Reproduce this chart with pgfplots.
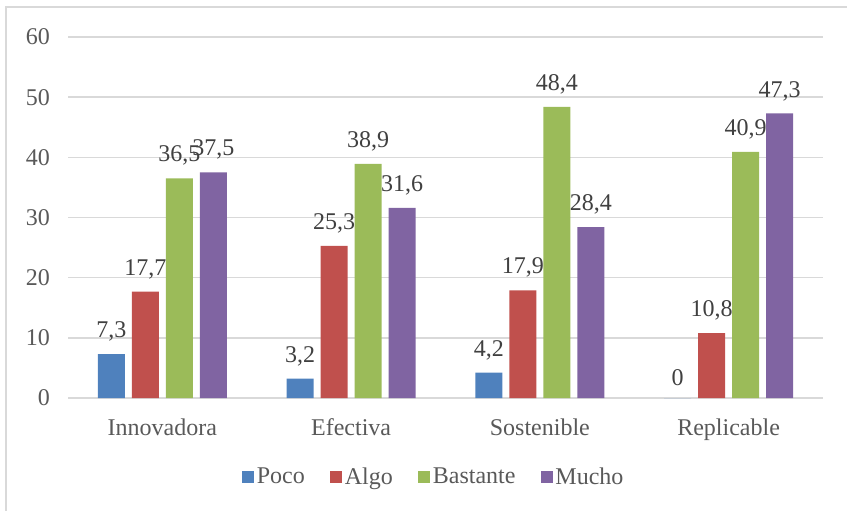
\documentclass[border=0pt]{standalone}
\usepackage{fontspec}
\setmainfont{Liberation Serif}
\usepackage{pgfplots}
\pgfplotsset{compat=1.18}
\definecolor{poco}{HTML}{4F81BD}
\definecolor{algo}{HTML}{C0504D}
\definecolor{bastante}{HTML}{9BBB59}
\definecolor{mucho}{HTML}{8064A2}
\definecolor{gridc}{HTML}{D9D9D9}
\definecolor{ticktxt}{HTML}{595959}
\definecolor{lbltxt}{HTML}{404040}
\begin{document}
\begin{tikzpicture}
  \useasboundingbox (0,0) rectangle (635.25pt,383.25pt);
  \draw[gridc, line width=0.9pt] (4.5pt,-2pt) -- (4.5pt,378pt) -- (640pt,378pt);
  \begin{axis}[
      at={(51pt,84.75pt)}, anchor=south west,
      scale only axis,
      width=566.25pt, height=270.75pt,
      ybar=5.25pt, bar width=20.25pt,
      xmin=-0.5, xmax=3.5, ymin=0, ymax=60,
      xtick={0,1,2,3},
      xticklabels={Innovadora, Efectiva, Sostenible, Replicable},
      ytick={0,10,...,60},
      major tick length=0pt,
      axis line style={draw=none},
      ymajorgrids=true,
      grid style={gridc, line width=1.2pt},
      font=\fontsize{18}{20}\selectfont,
      tick label style={text=ticktxt},
      /pgf/number format/assume math mode=true,
      yticklabel style={xshift=-10pt},
      xticklabel style={yshift=-12pt},
      nodes near coords,
      nodes near coords style={text=lbltxt, font=\fontsize{18}{20}\selectfont,
        yshift=6pt,
        /pgf/number format/.cd, fixed, precision=1, use comma, assume math mode=true},
      legend columns=4,
      legend style={at={(0.485,-0.219)}, anchor=center, draw=none, fill=none,
        text=ticktxt, font=\fontsize{18}{20}\selectfont,
        /tikz/every even column/.append style={column sep=17pt}},
      legend image code/.code={\fill[#1] (0pt,-4.5pt) rectangle (9pt,4.5pt);},
    ]
    \addplot[fill=poco, draw=none] coordinates {(0,7.3) (1,3.2) (2,4.2) (3,0)};
    \addplot[fill=algo, draw=none] coordinates {(0,17.7) (1,25.3) (2,17.9) (3,10.8)};
    \addplot[fill=bastante, draw=none] coordinates {(0,36.5) (1,38.9) (2,48.4) (3,40.9)};
    \addplot[fill=mucho, draw=none] coordinates {(0,37.5) (1,31.6) (2,28.4) (3,47.3)};
    \legend{Poco, Algo, Bastante, Mucho}
  \end{axis}
\end{tikzpicture}
\end{document}
